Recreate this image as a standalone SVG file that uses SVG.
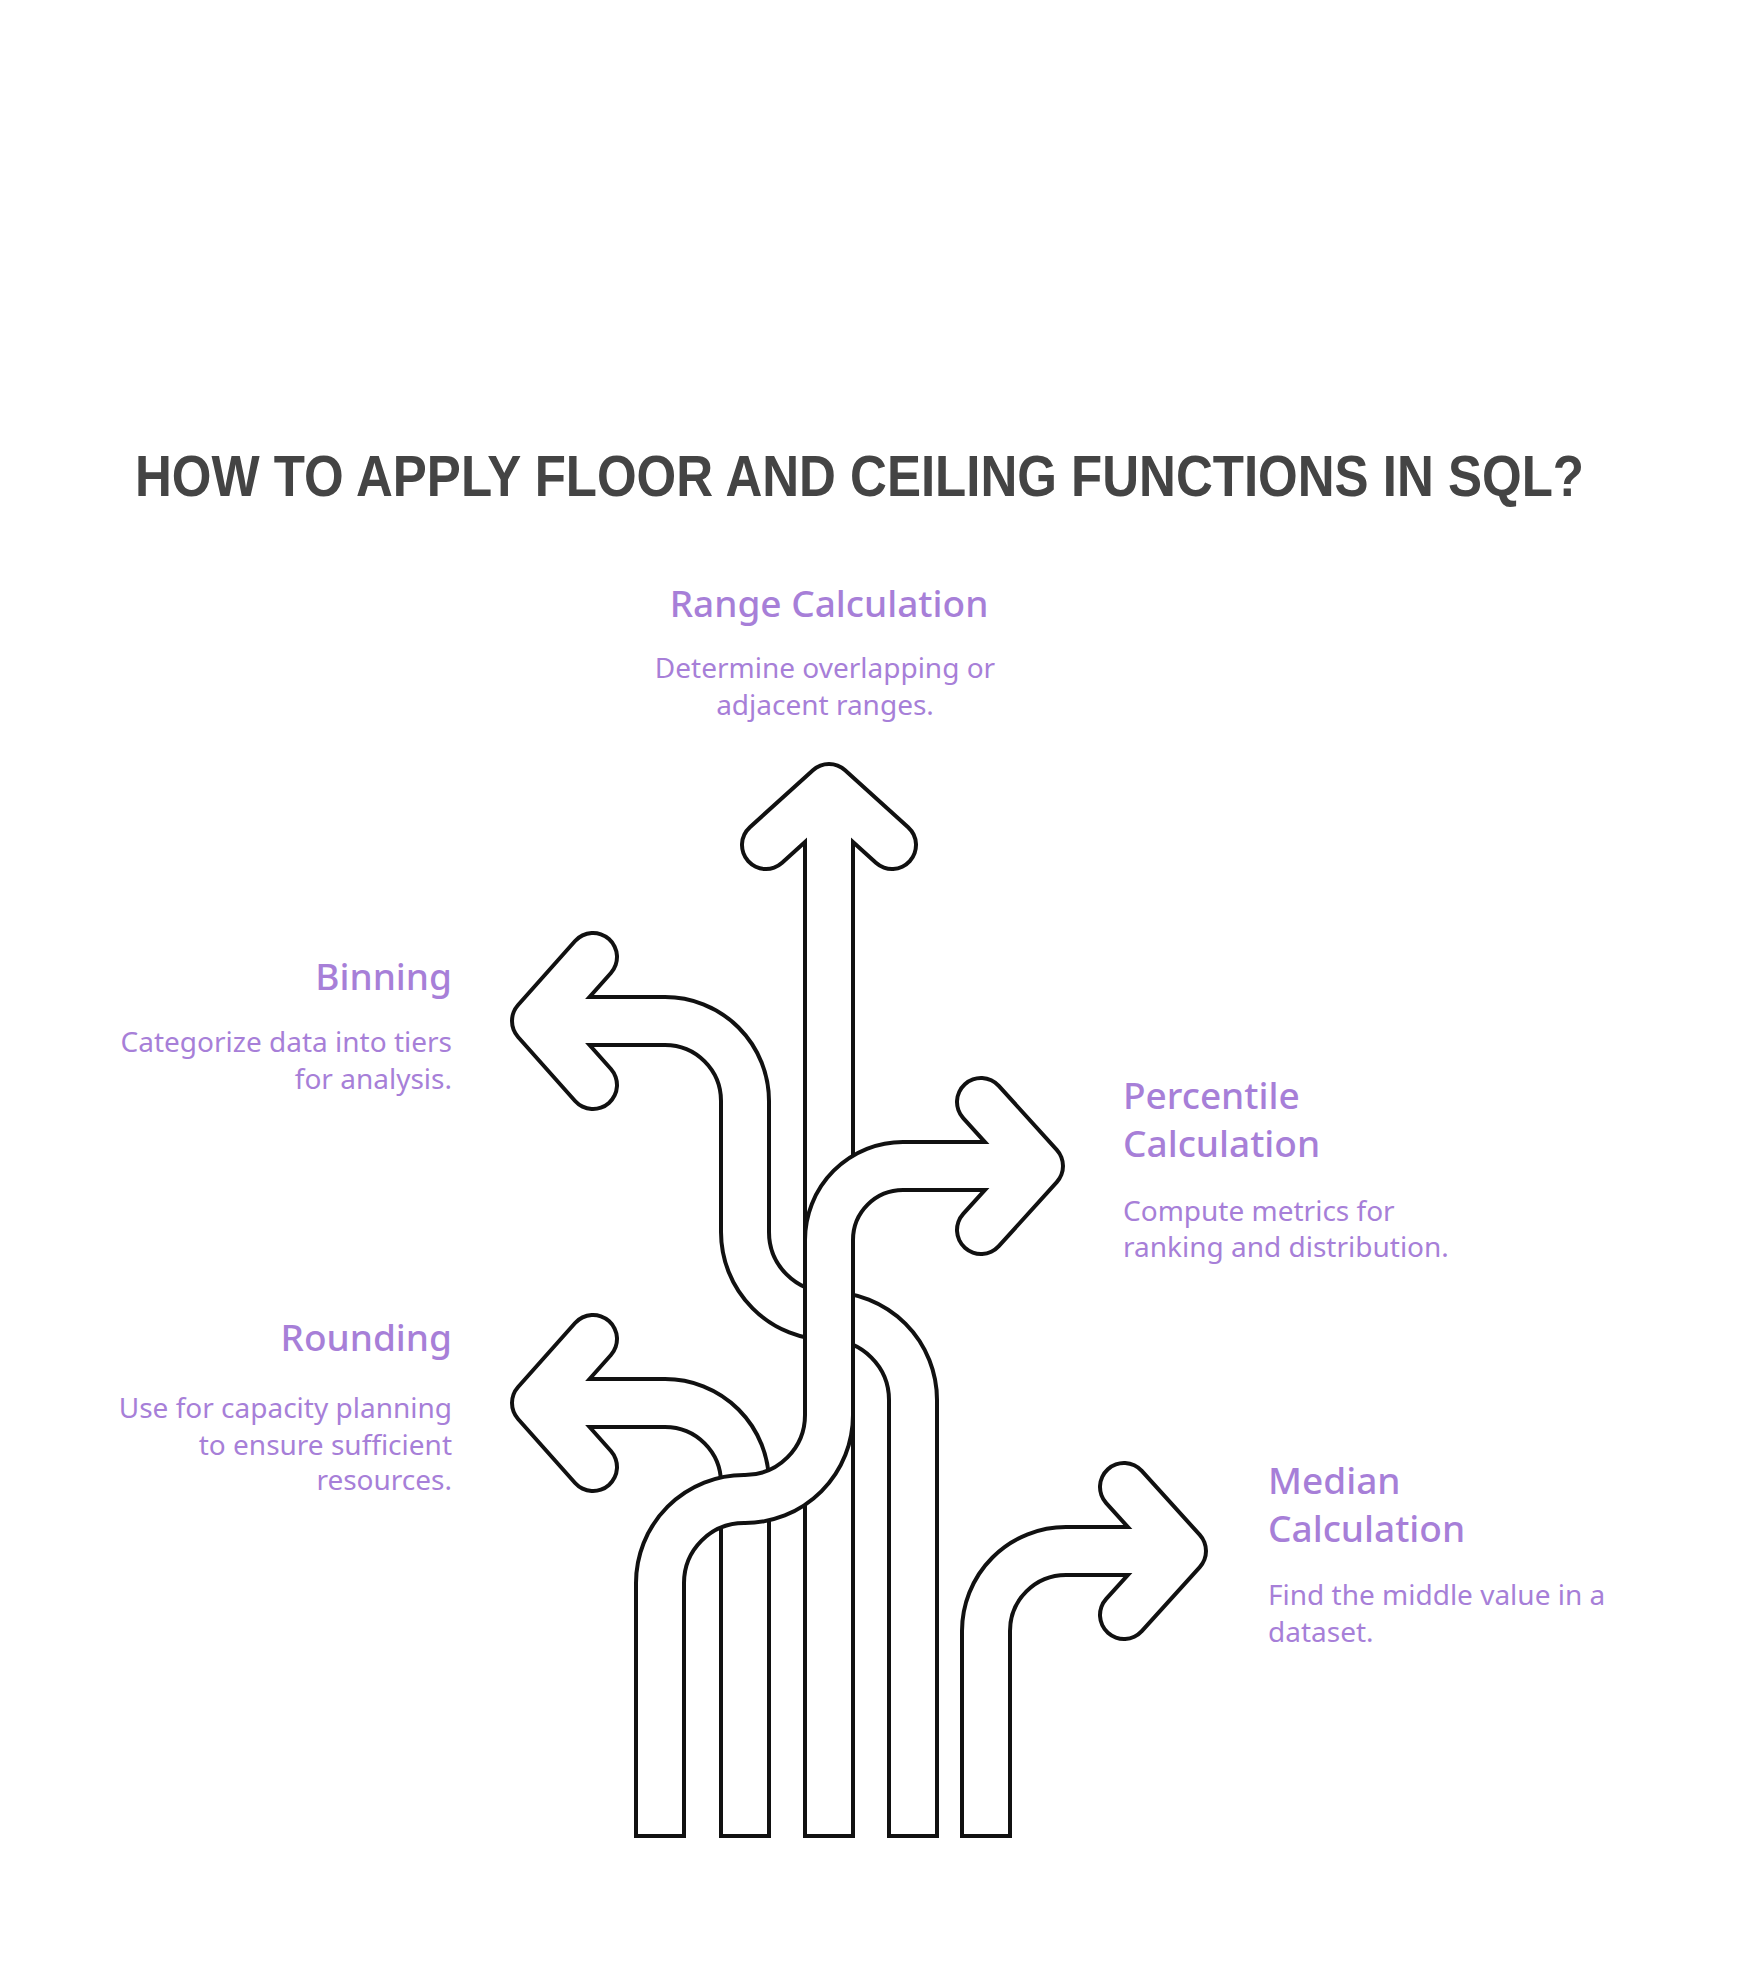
<svg xmlns="http://www.w3.org/2000/svg" width="1746" height="1980" viewBox="0 0 1746 1980">
<style>
.bk{fill:none;stroke:#111;stroke-width:52;stroke-linejoin:round}
.wh{fill:none;stroke:#fff;stroke-width:44;stroke-linejoin:round}
.hd{stroke-linecap:round}
.t{font-family:"Noto Sans","Liberation Sans",sans-serif;fill:#A77FD8}
.h{font-size:37px;font-weight:500}
.d{font-size:28px}
</style>
<rect width="1746" height="1980" fill="#fff"/>
<text x="135" y="496" font-family="Liberation Sans,sans-serif" font-weight="bold" font-size="58" fill="#444" textLength="1449" lengthAdjust="spacingAndGlyphs">HOW TO APPLY FLOOR AND CEILING FUNCTIONS IN SQL?</text>
<g id="connectors">
<g id="binning-arrow">
<path class="bk hd" d="M593,957 L536,1021 L593,1085"/>
<path class="bk" d="M913,1838 V1400 A84,84 0 0 0 829,1316 A84,84 0 0 1 745,1232 V1101 A80,80 0 0 0 665,1021 H536"/>
<path class="wh hd" d="M593,957 L536,1021 L593,1085"/>
<path class="wh" d="M913,1834 V1400 A84,84 0 0 0 829,1316 A84,84 0 0 1 745,1232 V1101 A80,80 0 0 0 665,1021 H536"/>
</g>
<g id="rounding-arrow">
<path class="bk hd" d="M593,1339 L536,1403 L593,1467"/>
<path class="bk" d="M745,1838 V1483 A80,80 0 0 0 665,1403 H536"/>
<path class="wh hd" d="M593,1339 L536,1403 L593,1467"/>
<path class="wh" d="M745,1834 V1483 A80,80 0 0 0 665,1403 H536"/>
</g>
<g id="range-arrow">
<path class="bk hd" d="M766,845 L829,788 L892,845"/>
<path class="bk" d="M829,1838 V788"/>
<path class="wh hd" d="M766,845 L829,788 L892,845"/>
<path class="wh" d="M829,1834 V788"/>
</g>
<g id="percentile-arrow">
<path class="bk hd" d="M981,1102 L1039,1166 L981,1230"/>
<path class="bk" d="M660,1838 V1583 A84,84 0 0 1 744,1499 H745 A84,84 0 0 0 829,1415 V1240 A74,74 0 0 1 903,1166 H1039"/>
<path class="wh hd" d="M981,1102 L1039,1166 L981,1230"/>
<path class="wh" d="M660,1834 V1583 A84,84 0 0 1 744,1499 H745 A84,84 0 0 0 829,1415 V1240 A74,74 0 0 1 903,1166 H1039"/>
</g>
<g id="median-arrow">
<path class="bk hd" d="M1124,1487 L1182,1551 L1124,1615"/>
<path class="bk" d="M986,1838 V1631 A80,80 0 0 1 1066,1551 H1182"/>
<path class="wh hd" d="M1124,1487 L1182,1551 L1124,1615"/>
<path class="wh" d="M986,1834 V1631 A80,80 0 0 1 1066,1551 H1182"/>
</g>
</g>
<g id="range">
<text class="t h" x="829" y="617" text-anchor="middle">Range Calculation</text>
<text class="t d" x="825" y="678" text-anchor="middle">Determine overlapping or</text>
<text class="t d" x="825" y="715" text-anchor="middle">adjacent ranges.</text>
</g>
<g id="binning">
<text class="t h" x="452" y="990" text-anchor="end">Binning</text>
<text class="t d" x="452" y="1052" text-anchor="end">Categorize data into tiers</text>
<text class="t d" x="452" y="1089" text-anchor="end">for analysis.</text>
</g>
<g id="rounding">
<text class="t h" x="452" y="1351" text-anchor="end">Rounding</text>
<text class="t d" x="452" y="1418" text-anchor="end">Use for capacity planning</text>
<text class="t d" x="452" y="1455" text-anchor="end">to ensure sufficient</text>
<text class="t d" x="452" y="1490" text-anchor="end">resources.</text>
</g>
<g id="percentile">
<text class="t h" x="1123" y="1109">Percentile</text>
<text class="t h" x="1123" y="1157">Calculation</text>
<text class="t d" x="1123" y="1221">Compute metrics for</text>
<text class="t d" x="1123" y="1257">ranking and distribution.</text>
</g>
<g id="median">
<text class="t h" x="1268" y="1494">Median</text>
<text class="t h" x="1268" y="1542">Calculation</text>
<text class="t d" x="1268" y="1605">Find the middle value in a</text>
<text class="t d" x="1268" y="1642">dataset.</text>
</g>
</svg>
